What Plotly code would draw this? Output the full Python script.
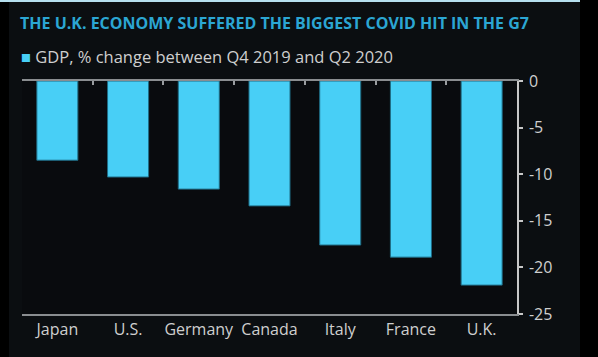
import plotly.graph_objects as go

countries = ["Japan", "U.S.", "Germany", "Canada", "Italy", "France", "U.K."]
gdp_change = [-8.5, -10.3, -11.6, -13.4, -17.6, -18.9, -21.9]
y_ticks = [0, -5, -10, -15, -20, -25]
y_tick_labels = ["0", "-5", "-10", "-15", "-20", "-25"]
series_name = "GDP, % change between Q4 2019 and Q2 2020"
title_text = "THE U.K. ECONOMY SUFFERED THE BIGGEST COVID HIT IN THE G7"

W, H = 598, 357
L, R, T, B = 22, 81, 81, 43
PW, PH = W - L - R, H - T - B

BAR = "#48cff6"
PANEL = "#0b0e11"
TEXT = "#cfcfcf"
FONT = "Open Sans"

def px_x(px):
    return (px - L) / PW

def px_y(py_from_top):
    return (H - py_from_top - B) / PH

positions = list(range(len(countries)))

fig = go.Figure()
fig.add_trace(go.Bar(
    x=positions, y=gdp_change, name=series_name,
    marker=dict(color=BAR, line=dict(color="#1f6d86", width=1)),
    showlegend=False,
))
# invisible companion trace so the top (zero-line) axis with its boundary ticks is drawn
fig.add_trace(go.Scatter(
    x=positions, y=gdp_change, xaxis="x2", mode="none",
    hoverinfo="skip", showlegend=False,
))

fig.update_layout(
    width=W, height=H,
    margin=dict(l=L, r=R, t=T, b=B),
    paper_bgcolor=PANEL, plot_bgcolor="#090b0e",
    bargap=0.42,
    font=dict(family=FONT, color=TEXT, size=15),
    title=dict(text="<b>" + title_text + "</b>", x=20 / W, xanchor="left",
               xref="container", y=1 - 23 / H, yanchor="middle", yref="container",
               font=dict(family=FONT, size=16.0, color="#2ba6d3")),
    xaxis=dict(
        tickmode="array", tickvals=positions, ticktext=countries,
        range=[-0.5, len(countries) - 0.5],
        showline=True, linecolor="#8a8d90", linewidth=2,
        ticks="", showgrid=False, zeroline=False,
        tickfont=dict(size=16, color=TEXT),
    ),
    xaxis2=dict(
        overlaying="x", side="top", anchor="y",
        range=[-0.5, len(countries) - 0.5],
        tickmode="array", tickvals=[i - 0.5 for i in range(len(countries) + 1)],
        showticklabels=False, ticks="inside", ticklen=4, tickwidth=1.5,
        tickcolor="#9a9da0", showline=True, linecolor="#8a8d90", linewidth=2,
        showgrid=False, zeroline=False,
    ),
    yaxis=dict(
        side="right", range=[-25, 0], tickmode="array", tickvals=y_ticks,
        ticktext=y_tick_labels, ticks="outside", ticklen=4, tickwidth=1.5,
        tickcolor="#c8c8c8", showline=True, linecolor="#c8c8c8", linewidth=1.5,
        showgrid=False, zeroline=False, ticklabelstandoff=3,
        tickfont=dict(size=16, color=TEXT),
    ),
    annotations=[dict(
        text="<span style='color:%s'>■</span> %s" % (BAR, series_name),
        xref="paper", yref="paper", x=px_x(19), y=px_y(57),
        xanchor="left", yanchor="middle", showarrow=False,
        font=dict(family=FONT, size=16.5, color=TEXT),
    )],
    shapes=[
        dict(type="rect", xref="paper", yref="paper", x0=px_x(0), x1=px_x(9),
             y0=px_y(H), y1=px_y(0), fillcolor="#000000", line=dict(width=0), layer="below"),
        dict(type="rect", xref="paper", yref="paper", x0=px_x(580), x1=px_x(W),
             y0=px_y(H), y1=px_y(0), fillcolor="#000000", line=dict(width=0), layer="below"),
        dict(type="rect", xref="paper", yref="paper", x0=px_x(0), x1=px_x(580),
             y0=px_y(2), y1=px_y(0), fillcolor="#b5dfee", line=dict(width=0), layer="below"),
    ],
)

fig.write_html("out.html", config={"displayModeBar": False},
               post_script="document.body.style.margin='0';")
